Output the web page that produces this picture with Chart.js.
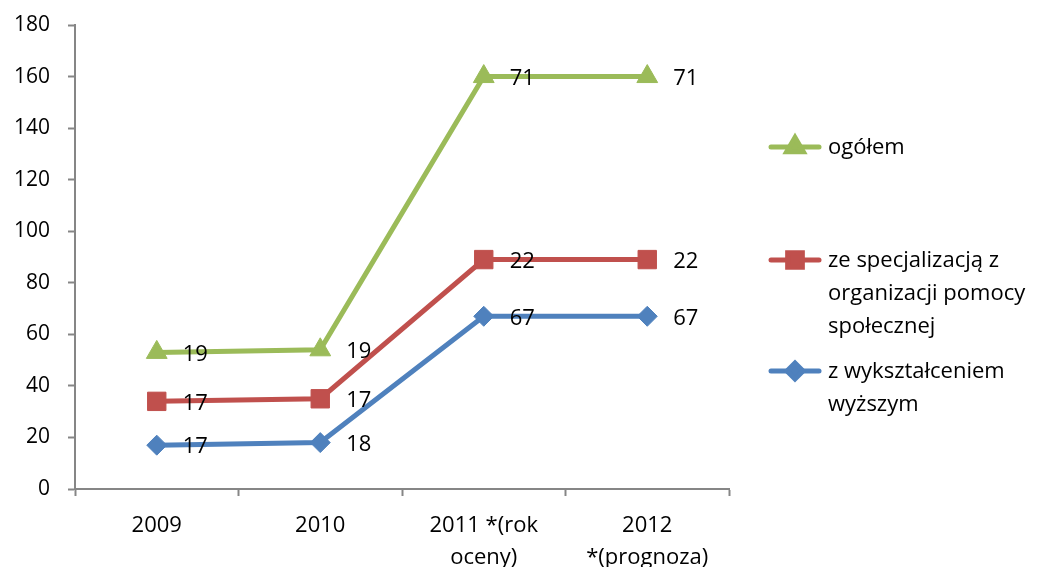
<!DOCTYPE html>
<html>
<head>
<meta charset="utf-8">
<script src="https://cdn.jsdelivr.net/npm/chart.js@4/dist/chart.umd.min.js"></script>
<style>
  html, body { margin: 0; padding: 0; background: #fff; }
  #wrap { width: 1038px; height: 567px; position: relative; }
</style>
</head>
<body>
<div id="wrap"><canvas id="chart" width="1038" height="567"></canvas></div>
<script>
// years on the x axis (multi-line labels)
const categories = [['2009'], ['2010'], ['2011 *(rok', 'oceny)'], ['2012', '*(prognoza)']];

// series values (stacked on top of each other)
const wyzsze = [17, 18, 67, 67];
const specjalizacja = [17, 17, 22, 22];
const ogolem = [19, 19, 71, 71];

const yTicks = { min: 0, max: 180, step: 20 };

const seriesNames = {
  ogolem: ['ogółem'],
  specjalizacja: ['ze specjalizacją z', 'organizacji pomocy', 'społecznej'],
  wyzsze: ['z wykształceniem', 'wyższym']
};

const FONT = '"Open Sans", Lato, sans-serif';
const AXIS = '#868686';

// value labels to the right of each point
const valueLabels = {
  id: 'valueLabels',
  afterDatasetsDraw(chart) {
    const ctx = chart.ctx;
    ctx.save();
    ctx.font = '22px ' + FONT;
    ctx.fillStyle = '#000';
    ctx.textAlign = 'left';
    ctx.textBaseline = 'middle';
    chart.data.datasets.forEach((ds, i) => {
      chart.getDatasetMeta(i).data.forEach((pt, j) => {
        ctx.fillText(String(ds.data[j]), pt.x + 26, pt.y + 2);
      });
    });
    ctx.restore();
  }
};

// legend drawn at the right side, with wrapped names
const sideLegend = {
  id: 'sideLegend',
  afterDraw(chart) {
    const ctx = chart.ctx;
    const items = [
      { ds: 2, y: 147, lines: seriesNames.ogolem },
      { ds: 1, y: 260, lines: seriesNames.specjalizacja },
      { ds: 0, y: 371, lines: seriesNames.wyzsze }
    ];
    ctx.save();
    items.forEach(it => {
      const ds = chart.data.datasets[it.ds];
      ctx.strokeStyle = ds.borderColor;
      ctx.lineWidth = 5;
      ctx.lineCap = 'round';
      ctx.beginPath();
      ctx.moveTo(771, it.y);
      ctx.lineTo(819, it.y);
      ctx.stroke();
      ctx.fillStyle = ds.pointBackgroundColor;
      ctx.strokeStyle = ds.pointBackgroundColor;
      Chart.helpers.drawPoint(ctx, {
        pointStyle: ds.pointStyle,
        radius: ds.pointRadius * 0.8,
        borderWidth: 1
      }, 795, it.y);
      ctx.fillStyle = '#000';
      ctx.font = '22px ' + FONT;
      ctx.textAlign = 'left';
      ctx.textBaseline = 'middle';
      it.lines.forEach((t, k) => ctx.fillText(t, 828, it.y + 1 + k * 33));
    });
    ctx.restore();
  }
};

new Chart(document.getElementById('chart'), {
  type: 'line',
  data: {
    labels: categories,
    datasets: [
      {
        label: 'z wykształceniem wyższym',
        data: wyzsze,
        borderColor: '#4F81BD',
        backgroundColor: '#4F81BD',
        pointBackgroundColor: '#4F81BD',
        pointBorderColor: '#4F81BD',
        pointStyle: 'rectRot',
        pointRadius: 10,
        pointBorderWidth: 1,
        borderWidth: 5,
        fill: false
      },
      {
        label: 'ze specjalizacją z organizacji pomocy społecznej',
        data: specjalizacja,
        borderColor: '#C0504D',
        backgroundColor: '#C0504D',
        pointBackgroundColor: '#C0504D',
        pointBorderColor: '#C0504D',
        pointStyle: 'rect',
        pointRadius: 13,
        pointBorderWidth: 1,
        borderWidth: 5,
        fill: false
      },
      {
        label: 'ogółem',
        data: ogolem,
        borderColor: '#9BBB59',
        backgroundColor: '#9BBB59',
        pointBackgroundColor: '#9BBB59',
        pointBorderColor: '#9BBB59',
        pointStyle: 'triangle',
        pointRadius: 12,
        pointBorderWidth: 1,
        borderWidth: 5,
        fill: false
      }
    ]
  },
  options: {
    responsive: false,
    animation: false,
    layout: { padding: { left: 0, top: 25, right: 309, bottom: 0 } },
    plugins: {
      legend: { display: false },
      tooltip: { enabled: false }
    },
    elements: { line: { tension: 0 } },
    scales: {
      x: {
        offset: true,
        grid: {
          offset: true,
          drawOnChartArea: false,
          tickLength: 7,
          tickColor: AXIS,
          tickWidth: 2
        },
        border: { color: AXIS, width: 2 },
        ticks: {
          color: '#000',
          font: { family: FONT, size: 22, lineHeight: 1.45 },
          padding: 14,
          maxRotation: 0,
          autoSkip: false
        },
        afterFit(scale) {
          scale.height = 78;
          scale.paddingLeft = 0;
          scale.paddingRight = 0;
        }
      },
      y: {
        stacked: true,
        min: yTicks.min,
        max: yTicks.max,
        grid: {
          drawOnChartArea: false,
          tickLength: 7,
          tickColor: AXIS,
          tickWidth: 2
        },
        border: { color: AXIS, width: 2 },
        ticks: {
          stepSize: yTicks.step,
          color: '#000',
          font: { family: FONT, size: 21 },
          padding: 18
        },
        afterFit(scale) {
          scale.width = 75;
          scale.paddingTop = 0;
          scale.paddingBottom = 0;
        }
      }
    }
  },
  plugins: [valueLabels, sideLegend]
});
</script>
</body>
</html>
